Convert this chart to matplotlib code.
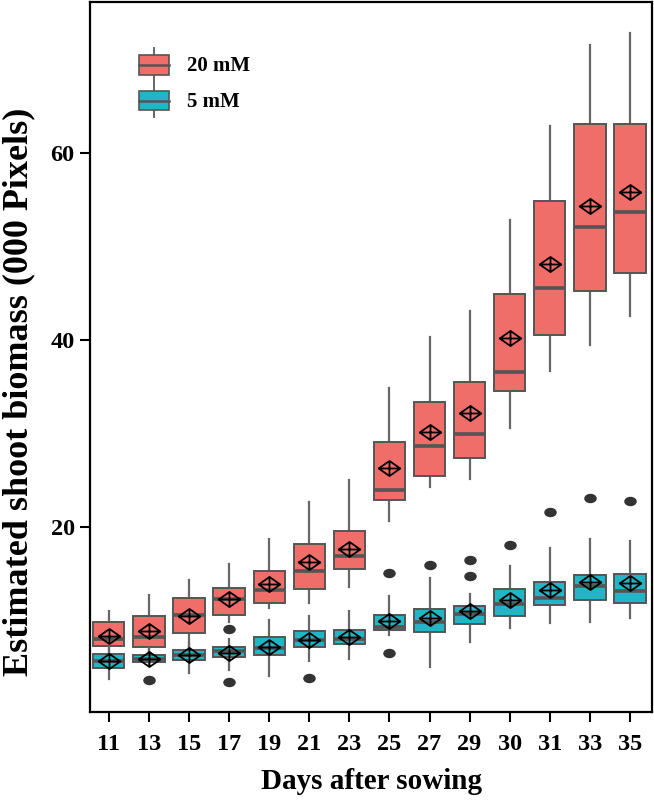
import matplotlib
matplotlib.use("Agg")
import matplotlib.pyplot as plt
from matplotlib.path import Path
from matplotlib.legend_handler import HandlerBase
from matplotlib.patches import Rectangle, Patch
from matplotlib.lines import Line2D
import numpy as np

plt.rcParams['font.family'] = ['Liberation Serif', 'DejaVu Serif']
plt.rcParams['font.weight'] = 'bold'

days = ["11", "13", "15", "17", "19", "21", "23", "25", "27", "29", "30", "31", "33", "35"]

# 20 mM
red_whishi = [11.0, 12.7, 14.3, 16.0, 18.7, 22.6, 25.0, 34.8, 40.3, 43.1, 52.8, 62.8, 71.5, 72.8]
red_q3     = [9.8, 10.45, 12.4, 13.5, 15.3, 18.2, 19.6, 29.1, 33.35, 35.5, 44.9, 54.8, 63.1, 63.1]
red_med    = [8.0, 8.2, 10.6, 12.3, 13.2, 15.3, 16.9, 23.9, 28.6, 29.9, 36.5, 45.5, 52.1, 53.7]
red_q1     = [7.3, 7.2, 8.6, 10.6, 11.9, 13.4, 15.5, 22.9, 25.4, 27.4, 34.5, 40.5, 45.2, 47.1]
red_whislo = [6.0, 5.8, 6.9, 9.8, 11.3, 11.9, 13.6, 20.6, 24.2, 25.1, 30.6, 36.7, 39.4, 42.5]
red_mean   = [8.3, 8.9, 10.5, 12.3, 13.9, 16.2, 17.6, 26.3, 30.1, 32.2, 40.2, 48.1, 54.3, 55.8]
red_fliers = [[], [], [], [9.06], [], [], [], [], [], [], [], [], [], []]

# 5 mM
teal_whishi = [7.3, 7.0, 7.6, 8.05, 10.05, 10.5, 11.05, 12.55, 14.5, 12.8, 15.8, 17.7, 18.7, 18.5]
teal_q3     = [6.4, 6.24, 6.8, 7.1, 8.2, 8.84, 9.0, 10.6, 11.2, 11.5, 13.3, 14.1, 14.87, 15.0]
teal_med    = [5.6, 5.88, 6.27, 6.77, 7.0, 7.9, 8.0, 9.34, 9.8, 10.7, 11.7, 12.37, 13.7, 13.1]
teal_q1     = [4.95, 5.53, 5.74, 6.13, 6.3, 7.2, 7.5, 8.98, 8.7, 9.66, 10.45, 11.6, 12.16, 11.84]
teal_whislo = [3.7, 5.2, 4.4, 4.7, 4.1, 5.7, 5.9, 8.4, 5.06, 7.63, 9.13, 9.7, 9.8, 10.27]
teal_mean   = [5.6, 5.85, 6.3, 6.5, 7.1, 7.9, 8.2, 9.95, 10.2, 11.0, 12.2, 13.26, 14.1, 14.0]
teal_fliers = [[], [3.6], [], [3.45], [], [3.85], [], [15.1, 6.56], [15.9], [16.5, 14.76],
               [18.1], [21.6], [23.1], [22.75]]

series = ["20 mM", "5 mM"]
colors = ["#EF6E69", "#22B5C5"]

# custom markers
mean_path = Path(
    [(-1, 0), (0, 0.7), (1, 0), (0, -0.7), (-1, 0), (-1, 0), (1, 0), (0, 0.7), (0, -0.7)],
    [Path.MOVETO, Path.LINETO, Path.LINETO, Path.LINETO, Path.CLOSEPOLY,
     Path.MOVETO, Path.LINETO, Path.MOVETO, Path.LINETO])
uc = Path.unit_circle()
flier_path = Path(uc.vertices * np.array([1.0, 0.72]), uc.codes)

fig = plt.figure(figsize=(6.54, 8.0), dpi=100)
ax = fig.add_axes([90 / 654, 88 / 800, 562 / 654, 710 / 800])

def make_stats(q1, med, q3, lo, hi, mean, fl):
    out = []
    for i in range(len(q1)):
        out.append(dict(q1=q1[i], med=med[i], q3=q3[i], whislo=lo[i], whishi=hi[i],
                        mean=mean[i], fliers=fl[i]))
    return out

pos = np.arange(len(days))
groups = [
    make_stats(red_q1, red_med, red_q3, red_whislo, red_whishi, red_mean, red_fliers),
    make_stats(teal_q1, teal_med, teal_q3, teal_whislo, teal_whishi, teal_mean, teal_fliers),
]

edge = "#555555"
for k, (stats, col) in enumerate(zip(groups, colors)):
    z = 2 + k * 2
    ax.bxp(stats, positions=pos, widths=0.78, patch_artist=True, showmeans=True,
           showcaps=False, manage_ticks=False,
           boxprops=dict(facecolor=col, edgecolor=edge, linewidth=1.4, zorder=z),
           whiskerprops=dict(color="#666666", linewidth=1.6, zorder=z - 0.5),
           medianprops=dict(color=edge, linewidth=2.6, zorder=z + 0.1),
           meanprops=dict(marker=mean_path, markerfacecolor="none", markeredgecolor="black",
                          markeredgewidth=1.3, markersize=15.5, zorder=10),
           flierprops=dict(marker=flier_path, markerfacecolor="#333333",
                           markeredgecolor="#333333", markersize=8, zorder=9))

ax.set_xlim(-0.47, 13.55)
ax.set_ylim(0.2, 76.1)
ax.set_xticks(pos)
ax.set_xticklabels(days)
ax.set_yticks([20, 40, 60])
ax.tick_params(axis="both", direction="out", length=7, width=1.5, labelsize=17.5)
ax.tick_params(axis="x", pad=9)
ax.tick_params(axis="y", pad=4)
for lbl in ax.get_xticklabels() + ax.get_yticklabels():
    lbl.set_fontweight("bold")
for s in ax.spines.values():
    s.set_linewidth(1.6)
    s.set_color("black")

ax.set_xlabel("Days after sowing", fontsize=21, fontweight="bold", labelpad=9)
fig.text(19 / 654, 1 - 392 / 800, "Estimated shoot biomass (000 Pixels)", rotation=90,
         ha="center", va="center", fontsize=26, fontweight="bold")


class BoxHandler(HandlerBase):
    def create_artists(self, legend, orig_handle, xdescent, ydescent, width, height,
                       fontsize, trans):
        col = orig_handle.get_facecolor()
        cx = width / 2 - xdescent
        bh = height * 0.58
        by = -ydescent + (height - bh) / 2
        rect = Rectangle((-xdescent, by), width, bh, facecolor=col, edgecolor=edge,
                         linewidth=1.2, transform=trans)
        med = Line2D([-xdescent, -xdescent + width], [by + bh / 2] * 2, color=edge,
                     linewidth=1.8, transform=trans)
        w1 = Line2D([cx, cx], [-ydescent, by], color="#666666", linewidth=1.4, transform=trans)
        w2 = Line2D([cx, cx], [by + bh, -ydescent + height], color="#666666", linewidth=1.4,
                    transform=trans)
        return [w1, w2, rect, med]


handles = [Patch(facecolor=c, label=s) for c, s in zip(colors, series)]
ax.legend(handles=handles, labels=series, handler_map={Patch: BoxHandler()},
          loc="upper left", bbox_to_anchor=(0.087, 0.935), frameon=False,
          prop=dict(size=15, weight="bold"), handlelength=1.45, handleheight=2.1,
          handletextpad=0.85, labelspacing=0.1, borderpad=0, borderaxespad=0)

fig.savefig("out.png", dpi=100)
